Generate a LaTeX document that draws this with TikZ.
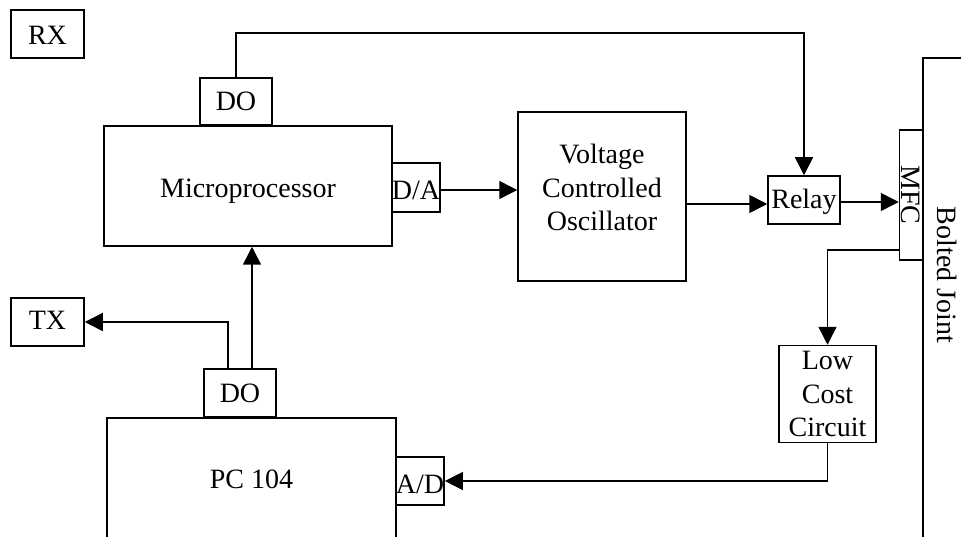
\documentclass[tikz,border=0pt]{standalone}
\usepackage{fontspec}
\setmainfont{Liberation Serif}
\usetikzlibrary{arrows.meta}
\begin{document}
\begin{tikzpicture}[x=1pt,y=-1pt,
  box/.style={draw,line width=1.5pt,inner sep=0pt,align=center,font=\fontsize{28}{33.5}\selectfont},
  sbox/.style={box,text height=19pt,text depth=0pt},
  lbl/.style={inner sep=0pt,font=\fontsize{28}{33.5}\selectfont},
  conn/.style={line width=1.5pt},
  arr/.style={line width=1.5pt,-{Triangle[length=18pt,width=18pt]}}]
\useasboundingbox (0,0) rectangle (961,537);
% boxes
\node[sbox,text height=22pt,minimum width=73,minimum height=48] (rx) at (47.5,34) {RX};
\node[sbox,minimum width=72,minimum height=47] (mdo) at (236,101.5) {DO};
\node[sbox,text height=24pt,minimum width=288,minimum height=120] (micro) at (248,186) {Microprocessor};
\node[sbox,text height=24pt,minimum width=48,minimum height=49] (da) at (416,187.5) {D/A};
\node[box,minimum width=168,minimum height=169] (vco) at (602,196.5) {};
\node[lbl,align=center] (vcotext) at ([yshift=9pt]vco.center) {Voltage\\Controlled\\Oscillator};
\node[sbox,text height=17pt,minimum width=72,minimum height=48] (relay) at (804,200) {Relay};
\node[box,minimum width=23,minimum height=130] (mfc) at (911,195) {};
\node[lbl,rotate=-90] (mfctext) at (mfc.center) {MFC};
\node[box,minimum width=97,minimum height=97] (lcc) at (827.5,394) {Low\\Cost\\Circuit};
\node[sbox,text height=25pt,minimum width=48,minimum height=48] (ad) at (420,481) {A/D};
\node[sbox,minimum width=289,minimum height=122] (pc) at (251.5,479) {PC 104};
\node[sbox,text height=18pt,minimum width=72,minimum height=48] (pdo) at (240,393) {DO};
\node[sbox,text height=16pt,minimum width=73,minimum height=48] (tx) at (47.5,322) {TX};
% bolted joint
\coordinate (bjb) at (923,540);
\coordinate (bjt) at (923,58);
\coordinate (bjr) at (965,58);
\draw[conn] (bjb) -- (bjt) -- (bjr);
\node[lbl,rotate=-90] (bj) at (947,275) {Bolted Joint};
% connectors
\coordinate (topc) at (804,33);
\draw[arr] (mdo.north) |- (topc) -- (relay.north);
\draw[arr] (da.east |- 0,190) -- (vco.west |- 0,190);
\draw[arr] ([xshift=-1pt]vco.east |- 0,204) -- (relay.west |- 0,204);
\draw[arr] (relay.east |- 0,202) -- (mfc.west |- 0,202);
\draw[arr] (mfc.west |- 0,250) -| (lcc.north);
\draw[arr] (lcc.south) |- (ad.east);
\draw[arr] ([xshift=12pt]pdo.north) -- ([xshift=12pt]pdo.north |- micro.south);
\draw[arr] ([xshift=-12pt]pdo.north) |- (tx.east);
\end{tikzpicture}
\end{document}
